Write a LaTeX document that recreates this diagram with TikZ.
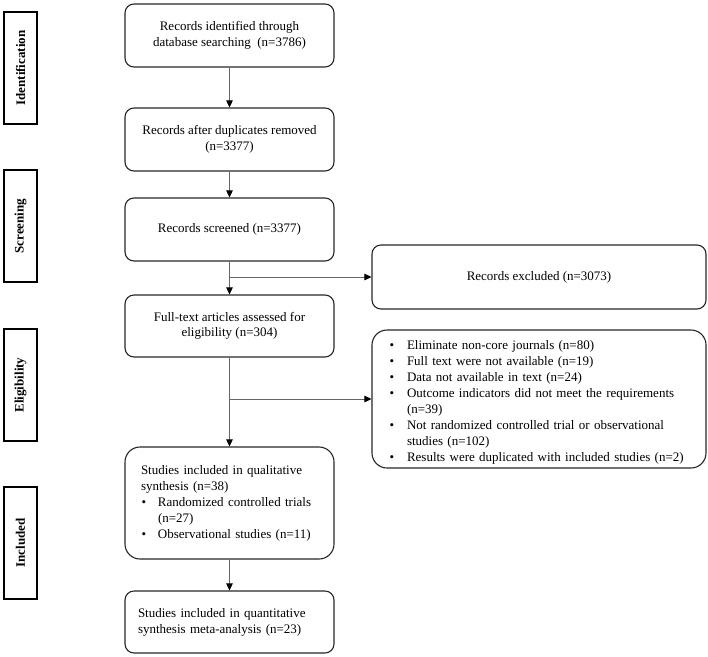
\documentclass[tikz,border=0pt]{standalone}
\usepackage{fontspec}
\setmainfont{Liberation Serif}
\usetikzlibrary{arrows.meta}
\newcommand{\bul}[2]{\par\noindent\hangindent=#1\hangafter=1\makebox[#1][l]{\hspace{0.5pt}\textbullet}#2}
\newcommand{\brk}{\hfil\break}
\begin{document}
\begin{tikzpicture}[x=1pt,y=-1pt,
  lab/.style={draw=black, line width=1.1pt, minimum width=112pt, minimum height=33pt, inner sep=0pt, rotate=90, font=\fontsize{13}{15}\selectfont\bfseries},
  mbox/.style={draw=black!85, line width=1.1pt, rounded corners=9pt, minimum width=209pt, inner sep=0pt, align=center, font=\fontsize{13}{15.5}\selectfont},
  lbox/.style={draw=black!85, line width=1.1pt, rounded corners=15pt, minimum width=209pt, inner ysep=0pt, align=left, font=\fontsize{13}{16}\selectfont},
  arr/.style={draw=black!60, line width=0.8pt, -{Triangle[length=7pt,width=6.5pt,color=black]}},
  ln/.style={draw=black!60, line width=0.8pt}
]
\useasboundingbox (0,0) rectangle (708,656);
% stage labels
\node[lab] (idl) at (20.5,68) {Identification};
\node[lab] (scl) at (20.5,226) {Screening};
\node[lab] (ell) at (20.5,385) {Eligibility};
\node[lab] (inl) at (20.5,543) {Included};
% main column
\node[mbox, minimum height=63pt] (b1) at (229.5,35.5) {Records identified through\\database searching\ \ (n=3786)};
\node[mbox, minimum height=63pt] (b2) at (229.5,139.5) {Records after duplicates removed\\(n=3377)};
\node[mbox, minimum height=63pt] (b3) at (229.5,229.5) {Records screened (n=3377)};
\node[mbox, minimum height=62pt] (b4) at (229.5,326) {Full-text articles assessed for\\eligibility (n=304)};
\node[lbox, minimum height=112pt, inner xsep=16pt, text width=177pt] (b5) at (229.5,503) {Studies included in qualitative\brk synthesis (n=38)
\bul{17pt}{Randomized controlled trials\brk (n=27)}
\bul{17pt}{Observational studies (n=11)}};
\node[lbox, rounded corners=9pt, minimum height=62pt, inner xsep=13pt, text width=183pt] (b6) at (229.5,622) {Studies included in quantitative\brk synthesis meta-analysis (n=23)};
% right column
\node[mbox, minimum width=334pt, minimum height=64pt] (r1) at (539,277) {Records excluded (n=3073)};
\node[lbox, minimum width=334pt, minimum height=138pt, inner xsep=17pt, text width=300pt] (r2) at (539,399) {%
\bul{18pt}{Eliminate non-core journals (n=80)}
\bul{18pt}{Full text were not available (n=19)}
\bul{18pt}{Data not available in text (n=24)}
\bul{18pt}{Outcome indicators did not meet the requirements\brk (n=39)}
\bul{18pt}{Not randomized controlled trial or observational\brk studies (n=102)}
\bul{18pt}{Results were duplicated with included studies (n=2)}};
% connectors
\coordinate (j1) at (b3.south |- r1.west);
\coordinate (j2) at (b4.south |- r2.west);
\draw[arr] (b1) -- (b2);
\draw[arr] (b2) -- (b3);
\draw[arr] (b3) -- (b4);
\draw[arr] (b4) -- (b5);
\draw[arr] (b5) -- (b6);
\draw[arr] (j1) -- (r1.west);
\draw[arr] (j2) -- (r2.west);
\end{tikzpicture}
\end{document}
